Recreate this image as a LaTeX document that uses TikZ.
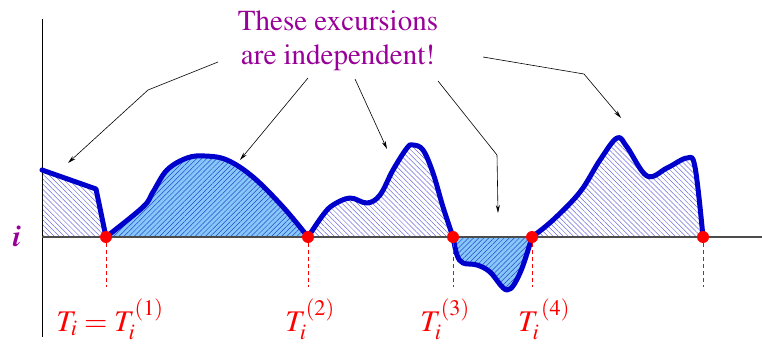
\documentclass[tikz,border=0pt]{standalone}
\usepackage[T1]{fontenc}
\usepackage{mathptmx}
\usepackage{tikz}
\usetikzlibrary{arrows.meta,patterns.meta}
\definecolor{pathblue}{RGB}{0,0,204}
\definecolor{skyfill}{RGB}{135,200,250}
\definecolor{hatchblue}{RGB}{110,110,220}
\definecolor{deephatch}{RGB}{40,70,200}
\definecolor{notepurple}{RGB}{153,0,153}
\tikzset{
  hatchopen/.style={pattern={Lines[angle=-45,distance=3.6pt,line width=0.5pt]},pattern color=hatchblue},
  hatchfull/.style={fill=skyfill,postaction={pattern={Lines[angle=45,distance=3.6pt,line width=0.5pt]},pattern color=deephatch}},
  walk/.style={pathblue,line width=5pt,line join=round,line cap=round},
  hit/.style={circle,fill=red,inner sep=0pt,minimum size=12pt},
  pointer/.style={black,line width=0.6pt,-{Stealth[length=8pt,width=4pt]}},
  tlabel/.style={red,anchor=base,font=\fontsize{30}{36}\selectfont}
}
\begin{document}
\begin{tikzpicture}[x=1pt,y=-1pt]
\useasboundingbox (0,0) rectangle (762,345);
% excursion regions
\path[hatchopen] (42,237) -- (42,170) -- (96,189) -- (106,237) -- cycle;
\path[hatchfull] plot[smooth,tension=0.6] coordinates {(106,237) (143,207) (153,192) (167,170) (187,158) (205,156) (227,160) (253,177) (283,207) (308,237)} -- cycle;
\path[hatchopen] plot[smooth,tension=0.6] coordinates {(308,237) (323,215) (333,205) (350,198) (367,203) (380,195) (393,170) (407,148) (413,145) (423,150) (433,173) (443,207) (453,237)} -- cycle;
\path[hatchfull] plot[smooth,tension=0.6] coordinates {(453,237) (457,255) (463,263) (477,265) (490,272) (507,290) (520,273) (532,237)} -- cycle;
\path[hatchopen] plot[smooth,tension=0.6] coordinates {(532,237) (553,220) (580,192) (600,160) (617,138) (627,147) (647,176) (667,168) (687,158) (695,167) (703,237)} -- cycle;
% axes
\draw[black,line width=0.8pt] (42,19) -- (42,337);
\draw[black!70,line width=1.2pt] (42,237) -- (762,237);
% the path
\draw[walk] (42,170) -- (96,189) -- (106,237);
\draw[walk] plot[smooth,tension=0.6] coordinates {(106,237) (143,207) (153,192) (167,170) (187,158) (205,156) (227,160) (253,177) (283,207) (308,237)};
\draw[walk] plot[smooth,tension=0.6] coordinates {(308,237) (323,215) (333,205) (350,198) (367,203) (380,195) (393,170) (407,148) (413,145) (423,150) (433,173) (443,207) (453,237)};
\draw[walk] plot[smooth,tension=0.6] coordinates {(453,237) (457,255) (463,263) (477,265) (490,272) (507,290) (520,273) (532,237)};
\draw[walk] plot[smooth,tension=0.6] coordinates {(532,237) (553,220) (580,192) (600,160) (617,138) (627,147) (647,176) (667,168) (687,158) (695,167) (703,237)};
% hitting times
\node[hit] (t1) at (106,237) {};
\node[hit] (t2) at (308,237) {};
\node[hit] (t3) at (453,237) {};
\node[hit] (t4) at (532,237) {};
\node[hit] (t5) at (703,237) {};
\foreach \k in {1,...,5} {
  \coordinate (d\k) at ([yshift=-50pt]t\k.center);
  \draw[red,line width=0.8pt,dash pattern=on 4pt off 3pt] (t\k) -- (d\k);
}
\node[tlabel] (l1) at (110,331) {$T_i=T_i^{(1)}$};
\node[tlabel] (l2) at (310,331) {$T_i^{(2)}$};
\node[tlabel] (l3) at (445,331) {$T_i^{(3)}$};
\node[tlabel] (l4) at (544,331) {$T_i^{\,(4)}$};
\node[notepurple,anchor=base,font=\fontsize{30}{36}\selectfont\bfseries\itshape] (lev) at (17,246) {i};
% the note and its arrows
\node[notepurple,align=center,font=\fontsize{29}{34}\selectfont] (note) at (338,41) {These excursions\\are independent!};
\coordinate (s1) at (218,62); \coordinate (b1) at (148,90); \coordinate (e1) at (68,163);
\coordinate (s2) at (308,78); \coordinate (e2) at (240,160);
\coordinate (s3) at (355,79); \coordinate (e3) at (387,149);
\coordinate (s4) at (438,81); \coordinate (b4) at (497,155); \coordinate (e4) at (498,213);
\coordinate (s5) at (483,57); \coordinate (b5) at (584,74); \coordinate (e5) at (621,118);
\draw[pointer] (s1) -- (b1) -- (e1);
\draw[pointer] (s2) -- (e2);
\draw[pointer] (s3) -- (e3);
\draw[pointer] (s4) -- (b4) -- (e4);
\draw[pointer] (s5) -- (b5) -- (e5);
\end{tikzpicture}
\end{document}
